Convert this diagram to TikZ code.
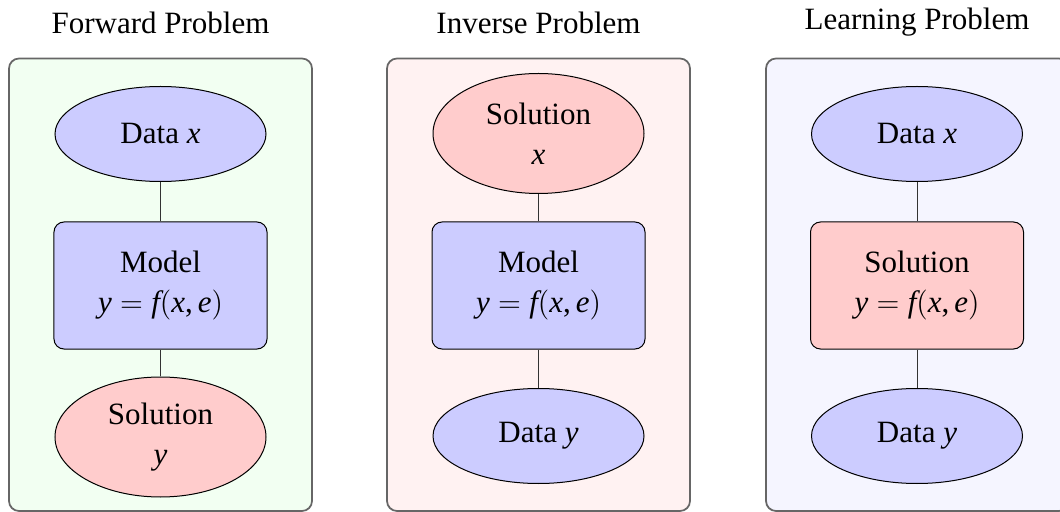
\documentclass[tikz,border=0pt]{standalone}
\usepackage{fontspec}
\setmainfont{Liberation Serif}
\usepackage[italic]{mathastext}
\usepackage{xcolor}
\usepackage{tikz}
\usetikzlibrary{shapes.geometric,positioning}

\tikzset{
    panel/.style={draw=black!60, line width=0.7pt, rounded corners=4pt},
    datanode/.style={ellipse, draw, thin, fill=blue!20, minimum width=84.4pt, minimum height=38pt, inner sep=0pt, align=center},
    solnode/.style={ellipse, draw, thin, fill=red!20, minimum width=84.4pt, minimum height=48pt, inner sep=0pt, align=center},
    modelbox/.style={rectangle, rounded corners=4pt, draw, thin, minimum width=85.2pt, minimum height=50.8pt, inner sep=0pt, align=center},
    link/.style={draw=black!80, thin}
}

\begin{document}
\begin{tikzpicture}[x=0.4pt, y=-0.4pt, every node/.style={font=\fontsize{12.4}{16}\selectfont}]
    \useasboundingbox (0,0) rectangle (1060,512);

    % Forward
    \draw[panel, fill=green!5] (9,58.5) rectangle (312,511);
    \node (fwdTitle) at (160.5,22.5) {Forward Problem};
    \node[datanode] (fwdData) at (160.5,134) {Data $x$};
    \node[modelbox, fill=blue!20] (fwdModel) at (160.5,285.5) {Model\\$y=f(x,e)$};
    \node[solnode] (fwdSol) at (160.5,437) {Solution\\$y$};
    \draw[link] (fwdData) -- (fwdModel);
    \draw[link] (fwdModel) -- (fwdSol);

    % Inverse
    \draw[panel, fill=red!5] (387,58.5) rectangle (690,511);
    \node (invTitle) at (538.5,22.5) {Inverse Problem};
    \node[solnode] (invSol) at (538.5,133.5) {Solution\\$x$};
    \node[modelbox, fill=blue!20] (invModel) at (538.5,285.5) {Model\\$y=f(x,e)$};
    \node[datanode] (invData) at (538.5,436) {Data $y$};
    \draw[link] (invSol) -- (invModel);
    \draw[link] (invModel) -- (invData);

    % Learning
    \draw[panel, fill=blue!4] (766,58.5) rectangle (1069,511);
    \node (lrnTitle) at (917,22.5) {Learning Problem};
    \node[datanode] (lrnData) at (917,134) {Data $x$};
    \node[modelbox, fill=red!20] (lrnSol) at (917,285.5) {Solution\\$y=f(x,e)$};
    \node[datanode] (lrnOut) at (917,436) {Data $y$};
    \draw[link] (lrnData) -- (lrnSol);
    \draw[link] (lrnSol) -- (lrnOut);
\end{tikzpicture}
\end{document}
